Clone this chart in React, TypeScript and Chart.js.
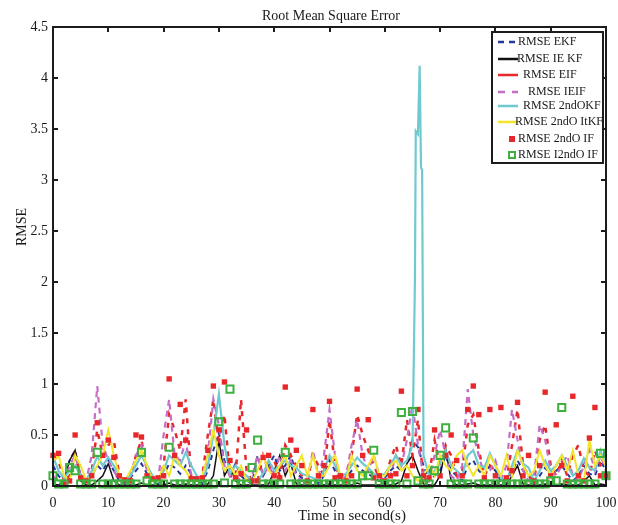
import React, { useEffect, useRef } from "react";
import { Chart, registerables } from "chart.js";

Chart.register(...registerables);

const W = 618;
const H = 525;
const FONT = "'Liberation Serif', 'Times New Roman', serif";

const seconds = Array.from({ length: 101 }, (_, i) => i);

const rmseEKF = [
  0.2, 0.1, 0.05, 0.25, 0.35, 0.1, 0.03, 0.1, 0.2, 0.15,
  0.25, 0.15, 0.05, 0.03, 0.08, 0.15, 0.22, 0.12, 0.05, 0.02,
  0.1, 0.22, 0.18, 0.12, 0.2, 0.12, 0.05, 0.03, 0.15, 0.35,
  0.52, 0.25, 0.1, 0.22, 0.1, 0.05, 0.03, 0.3, 0.1, 0.2,
  0.3, 0.15, 0.2, 0.3, 0.12, 0.08, 0.05, 0.05, 0.03, 0.1,
  0.25, 0.15, 0.05, 0.08, 0.15, 0.2, 0.15, 0.12, 0.08, 0.05,
  0.08, 0.15, 0.2, 0.15, 0.2, 0.45, 0.38, 0.2, 0.05, 0.1,
  0.15, 0.3, 0.15, 0.1, 0.05, 0.2, 0.25, 0.15, 0.1, 0.2,
  0.15, 0.05, 0.03, 0.15, 0.25, 0.15, 0.1, 0.03, 0.1, 0.18,
  0.1, 0.15, 0.2, 0.12, 0.05, 0.1, 0.2, 0.12, 0.1, 0.25,
  0.15,
];

const rmseIEKF = [
  0.02, 0.01, 0.05, 0.25, 0.35, 0.05, 0.01, 0.01, 0.05, 0.1,
  0.22, 0.05, 0.01, 0.01, 0.01, 0.01, 0.03, 0.01, 0.01, 0.01,
  0.01, 0.03, 0.01, 0.01, 0.02, 0.01, 0.01, 0.01, 0.02, 0.1,
  0.45, 0.1, 0.2, 0.05, 0.01, 0.01, 0.01, 0.01, 0.01, 0.02,
  0.15, 0.3, 0.1, 0.22, 0.02, 0.01, 0.01, 0.01, 0.01, 0.01,
  0.02, 0.01, 0.01, 0.01, 0.01, 0.03, 0.01, 0.01, 0.01, 0.01,
  0.01, 0.01, 0.02, 0.05, 0.22, 0.3, 0.15, 0.02, 0.01, 0.01,
  0.1, 0.37, 0.05, 0.01, 0.01, 0.02, 0.03, 0.01, 0.01, 0.01,
  0.01, 0.01, 0.01, 0.1, 0.2, 0.02, 0.01, 0.01, 0.01, 0.02,
  0.01, 0.01, 0.02, 0.01, 0.01, 0.01, 0.05, 0.1, 0.01, 0.02,
  0.01,
];

const rmseEIF = [
  0.3, 0.25, 0.05, 0.1, 0.3, 0.1, 0.05, 0.15, 0.55, 0.3,
  0.4, 0.45, 0.1, 0.05, 0.08, 0.3, 0.45, 0.15, 0.06, 0.06,
  0.2, 0.7, 0.55, 0.35, 0.85, 0.08, 0.06, 0.1, 0.5, 0.85,
  0.4, 0.7, 0.1, 0.08, 0.85, 0.15, 0.05, 0.05, 0.3, 0.15,
  0.25, 0.1, 0.4, 0.3, 0.2, 0.1, 0.05, 0.3, 0.2, 0.1,
  0.65, 0.2, 0.08, 0.05, 0.3, 0.7, 0.5, 0.35, 0.2, 0.08,
  0.05, 0.25, 0.4, 0.2, 0.65, 0.3, 0.65, 0.05, 0.1, 0.45,
  0.2, 0.4, 0.3, 0.1, 0.15, 0.6, 0.7, 0.35, 0.1, 0.2,
  0.15, 0.1, 0.05, 0.4, 0.75, 0.2, 0.1, 0.05, 0.45, 0.6,
  0.2, 0.1, 0.25, 0.1, 0.3, 0.4, 0.15, 0.1, 0.35, 0.2,
  0.1,
];

const rmseIEIF = [
  0.1, 0.05, 0.05, 0.2, 0.3, 0.1, 0.05, 0.3, 0.98, 0.4,
  0.25, 0.15, 0.05, 0.05, 0.1, 0.3, 0.4, 0.15, 0.05, 0.05,
  0.5, 0.85, 0.3, 0.25, 0.45, 0.1, 0.05, 0.05, 0.3, 0.85,
  0.6, 0.2, 0.1, 0.1, 0.05, 0.05, 0.1, 0.3, 0.1, 0.2,
  0.1, 0.3, 0.15, 0.25, 0.1, 0.05, 0.05, 0.35, 0.1, 0.3,
  0.75, 0.3, 0.05, 0.1, 0.4, 0.65, 0.3, 0.15, 0.3, 0.1,
  0.05, 0.1, 0.3, 0.2, 0.45, 0.8, 0.4, 0.1, 0.05, 0.3,
  0.55, 0.3, 0.1, 0.05, 0.2, 0.95, 0.5, 0.3, 0.1, 0.15,
  0.25, 0.05, 0.2, 0.75, 0.45, 0.15, 0.05, 0.1, 0.6, 0.45,
  0.15, 0.1, 0.2, 0.3, 0.1, 0.05, 0.2, 0.35, 0.15, 0.3,
  0.15,
];

const rmse2ndOKF = [
  0.29, 0.15, 0.08, 0.15, 0.2, 0.1, 0.05, 0.15, 0.29, 0.2,
  0.28, 0.2, 0.1, 0.05, 0.1, 0.2, 0.3, 0.2, 0.1, 0.04,
  0.15, 0.3, 0.25, 0.2, 0.33, 0.2, 0.1, 0.05, 0.2, 0.5,
  0.9, 0.4, 0.12, 0.2, 0.15, 0.1, 0.06, 0.05, 0.12, 0.25,
  0.15, 0.2, 0.25, 0.2, 0.18, 0.12, 0.1, 0.08, 0.05, 0.15,
  0.3, 0.2, 0.1, 0.12, 0.2, 0.28, 0.22, 0.18, 0.12, 0.1,
  0.12, 0.2, 0.3, 0.2, 0.25, 0.4, 3.45, 0.3, 0.1, 0.15,
  0.22, 0.35, 0.2, 0.15, 0.1, 0.3, 0.35, 0.2, 0.18, 0.32,
  0.2, 0.08, 0.05, 0.2, 0.35, 0.22, 0.18, 0.05, 0.15, 0.25,
  0.15, 0.2, 0.3, 0.2, 0.1, 0.15, 0.27, 0.18, 0.15, 0.35,
  0.2,
];
// extra samples of the 2ndOKF divergence around t = 65-67 s
const spikeTimes = [65.1, 65.45, 65.6, 66.3, 66.55, 66.75];
const spikeValues = [0.7, 2.03, 3.48, 4.12, 3.12, 3.1];

const rmse2ndOItKF = [
  0.25, 0.3, 0.1, 0.05, 0.3, 0.2, 0.05, 0.1, 0.2, 0.3,
  0.55, 0.3, 0.1, 0.05, 0.15, 0.25, 0.35, 0.2, 0.05, 0.05,
  0.2, 0.1, 0.3, 0.2, 0.15, 0.05, 0.05, 0.1, 0.3, 0.55,
  0.3, 0.15, 0.2, 0.1, 0.2, 0.05, 0.05, 0.15, 0.3, 0.15,
  0.1, 0.2, 0.3, 0.1, 0.2, 0.3, 0.1, 0.3, 0.1, 0.1,
  0.2, 0.3, 0.1, 0.05, 0.3, 0.15, 0.1, 0.2, 0.3, 0.1,
  0.1, 0.2, 0.25, 0.15, 0.2, 0.1, 0.05, 0.1, 0.2, 0.1,
  0.3, 0.2, 0.15, 0.3, 0.35, 0.2, 0.1, 0.2, 0.1, 0.3,
  0.2, 0.1, 0.3, 0.1, 0.35, 0.2, 0.1, 0.15, 0.35, 0.2,
  0.1, 0.2, 0.3, 0.15, 0.35, 0.1, 0.05, 0.45, 0.2, 0.3,
  0.2,
];

const rmse2ndOIF = [
  0.3, 0.32, 0.02, 0.05, 0.5, 0.08, 0.05, 0.1, 0.62, 0.3,
  0.45, 0.28, 0.1, 0.06, 0.05, 0.5, 0.48, 0.1, 0.07, 0.08,
  0.1, 1.05, 0.3, 0.8, 0.45, 0.07, 0.07, 0.08, 0.35, 0.98,
  0.55, 1.02, 0.25, 0.08, 0.12, 0.55, 0.05, 0.05, 0.28, 0.3,
  0.1, 0.08, 0.97, 0.45, 0.35, 0.2, 0.05, 0.75, 0.1, 0.2,
  0.83, 0.08, 0.1, 0.05, 0.1, 0.95, 0.3, 0.65, 0.08, 0.1,
  0.05, 0.1, 0.12, 0.93, 0.1, 0.2, 0.75, 0.1, 0.08, 0.55,
  0.1, 0.3, 0.5, 0.25, 0.1, 0.75, 0.98, 0.7, 0.08, 0.75,
  0.1, 0.77, 0.08, 0.15, 0.82, 0.1, 0.3, 0.05, 0.2, 0.92,
  0.1, 0.6, 0.2, 0.05, 0.88, 0.1, 0.05, 0.47, 0.77, 0.1,
  0.1,
];

const rmseI2ndOIF = [
  0.1, 0.02, 0.02, 0.18, 0.15, 0.02, 0.02, 0.02, 0.33, 0.02,
  0.02, 0.02, 0.02, 0.02, 0.02, 0.02, 0.33, 0.05, 0.02, 0.02,
  0.02, 0.38, 0.02, 0.02, 0.02, 0.02, 0.02, 0.02, 0.02, 0.02,
  0.63, 0.03, 0.95, 0.02, 0.02, 0.02, 0.18, 0.45, 0.02, 0.02,
  0.02, 0.02, 0.33, 0.02, 0.02, 0.02, 0.02, 0.02, 0.02, 0.02,
  0.02, 0.02, 0.02, 0.02, 0.02, 0.02, 0.1, 0.1, 0.35, 0.02,
  0.02, 0.02, 0.02, 0.72, 0.02, 0.73, 0.05, 0.02, 0.02, 0.15,
  0.3, 0.57, 0.02, 0.02, 0.02, 0.02, 0.47, 0.02, 0.02, 0.02,
  0.02, 0.02, 0.02, 0.02, 0.02, 0.02, 0.02, 0.02, 0.02, 0.02,
  0.05, 0.05, 0.77, 0.02, 0.02, 0.02, 0.02, 0.02, 0.02, 0.32,
  0.1,
];

const legendLabels = [
  "RMSE EKF",
  "RMSE IE KF",
  "RMSE EIF",
  "RMSE IEIF",
  "RMSE 2ndOKF",
  "RMSE 2ndO ItKF",
  "RMSE 2ndO IF",
  "RMSE I2ndO IF",
];

const C_BLUE = "#25379b";
const C_BLACK = "#111111";
const C_RED = "#e8272b";
const C_MAGENTA = "#c46ec6";
const C_CYAN = "#6fcacf";
const C_YELLOW = "#f3e52c";
const C_GREEN = "#3db03d";

const toPoints = (vals: number[]) => vals.map((v, i) => ({ x: seconds[i], y: v }));

const framePlugin = {
  id: "matlabFrame",
  afterDraw(chart: any) {
    const { ctx, chartArea } = chart;
    const { left, right, top, bottom } = chartArea;
    const xs = chart.scales.x;
    const ys = chart.scales.y;
    ctx.save();
    ctx.strokeStyle = "#1c1c1c";
    ctx.lineWidth = 2;
    ctx.strokeRect(left, top, right - left, bottom - top);
    ctx.beginPath();
    for (let v = 0; v <= 100; v += 10) {
      const px = Math.round(xs.getPixelForValue(v));
      ctx.moveTo(px, bottom);
      ctx.lineTo(px, bottom - 5);
      ctx.moveTo(px, top);
      ctx.lineTo(px, top + 5);
    }
    for (let v = 0; v <= 4.5; v += 0.5) {
      const py = Math.round(ys.getPixelForValue(v));
      ctx.moveTo(left, py);
      ctx.lineTo(left + 5, py);
      ctx.moveTo(right, py);
      ctx.lineTo(right - 5, py);
    }
    ctx.stroke();

    ctx.fillStyle = "#1a1a1a";
    ctx.textAlign = "center";
    ctx.textBaseline = "middle";
    ctx.font = `14px ${FONT}`;
    ctx.fillText("Root Mean Square Error", 331, 16);
    ctx.font = `15px ${FONT}`;
    ctx.fillText("Time in second(s)", 352, 516);
    ctx.save();
    ctx.translate(22, 227);
    ctx.rotate(-Math.PI / 2);
    ctx.font = `14px ${FONT}`;
    ctx.fillText("RMSE", 0, 0);
    ctx.restore();

    // legend
    const bx = right - 114;
    const by = top + 5;
    const bw = 111;
    const bh = 131;
    ctx.fillStyle = "#ffffff";
    ctx.fillRect(bx, by, bw, bh);
    ctx.strokeStyle = "#1c1c1c";
    ctx.lineWidth = 2;
    ctx.strokeRect(bx, by, bw, bh);

    const rowY = [43, 60, 76, 93, 107, 123, 140, 156].map((y) => y - 28 + top);
    const textX = [518, 517, 523, 528, 523, 515, 518, 518];
    const styles = [
      { c: C_BLUE, dash: [6, 5], w: 2.5 },
      { c: C_BLACK, dash: [], w: 2.5 },
      { c: C_RED, dash: [], w: 2.5 },
      { c: C_MAGENTA, dash: [7, 7], w: 2.5 },
      { c: C_CYAN, dash: [], w: 2.5 },
      { c: C_YELLOW, dash: [], w: 2.5 },
    ];
    for (let i = 0; i < 6; i++) {
      const s = styles[i];
      ctx.strokeStyle = s.c;
      ctx.lineWidth = s.w;
      ctx.setLineDash(s.dash);
      ctx.beginPath();
      ctx.moveTo(bx + 6, rowY[i]);
      ctx.lineTo(bx + 26, rowY[i]);
      ctx.stroke();
    }
    ctx.setLineDash([]);
    ctx.fillStyle = C_RED;
    ctx.fillRect(bx + 17, rowY[6] - 3, 6, 6);
    ctx.strokeStyle = C_GREEN;
    ctx.lineWidth = 2;
    ctx.strokeRect(bx + 17, rowY[7] - 3, 6, 6);

    ctx.fillStyle = "#1a1a1a";
    ctx.font = `12px ${FONT}`;
    ctx.textAlign = "left";
    for (let i = 0; i < legendLabels.length; i++) {
      ctx.fillText(legendLabels[i], textX[i] - 518 + bx + 26, rowY[i]);
    }
    ctx.restore();
  },
};

export default function App() {
  const ref = useRef<HTMLCanvasElement | null>(null);

  useEffect(() => {
    if (!ref.current) return;
    const cyanPoints = [
      ...toPoints(rmse2ndOKF),
      ...spikeTimes.map((t, i) => ({ x: t, y: spikeValues[i] })),
    ].sort((a, b) => a.x - b.x);

    const lineBase = { pointRadius: 0, tension: 0, fill: false };

    const chart = new Chart(ref.current, {
      type: "line",
      data: {
        datasets: [
          {
            label: legendLabels[7],
            data: toPoints(rmseI2ndOIF),
            showLine: false,
            pointStyle: "rect",
            pointRadius: 5,
            pointBorderWidth: 2,
            pointBorderColor: C_GREEN,
            pointBackgroundColor: "rgba(255,255,255,0)",
            borderColor: C_GREEN,
            clip: false,
          },
          {
            label: legendLabels[6],
            data: toPoints(rmse2ndOIF),
            showLine: false,
            pointStyle: "rect",
            pointRadius: 3.8,
            pointBorderWidth: 0,
            pointBackgroundColor: C_RED,
            borderColor: C_RED,
            clip: false,
          },
          {
            ...lineBase,
            label: legendLabels[5],
            data: toPoints(rmse2ndOItKF),
            borderColor: C_YELLOW,
            borderWidth: 2,
          },
          {
            ...lineBase,
            label: legendLabels[4],
            data: cyanPoints,
            borderColor: C_CYAN,
            borderWidth: 2.2,
          },
          {
            ...lineBase,
            label: legendLabels[3],
            data: toPoints(rmseIEIF),
            borderColor: C_MAGENTA,
            borderWidth: 2.2,
            borderDash: [6, 5],
          },
          {
            ...lineBase,
            label: legendLabels[2],
            data: toPoints(rmseEIF),
            borderColor: C_RED,
            borderWidth: 2.5,
            borderDash: [5, 6],
          },
          {
            ...lineBase,
            label: legendLabels[1],
            data: toPoints(rmseIEKF),
            borderColor: C_BLACK,
            borderWidth: 1.5,
          },
          {
            ...lineBase,
            label: legendLabels[0],
            data: toPoints(rmseEKF),
            borderColor: C_BLUE,
            borderWidth: 2,
            borderDash: [5, 4],
          },
        ],
      },
      options: {
        responsive: false,
        animation: false,
        events: [],
        layout: { padding: { top: 27, right: 12, left: 0, bottom: 0 } },
        plugins: {
          legend: { display: false },
          tooltip: { enabled: false },
          title: { display: false },
        },
        scales: {
          x: {
            type: "linear",
            min: 0,
            max: 100,
            grid: { display: false, drawTicks: false },
            border: { display: false },
            ticks: {
              stepSize: 10,
              padding: 9,
              maxRotation: 0,
              color: "#1a1a1a",
              font: { family: FONT, size: 14 },
            },
            afterFit(scale: any) {
              scale.height = 39;
              scale.paddingRight = 0;
              scale.paddingLeft = 0;
            },
          },
          y: {
            type: "linear",
            min: 0,
            max: 4.5,
            grid: { display: false, drawTicks: false },
            border: { display: false },
            ticks: {
              stepSize: 0.5,
              padding: 5,
              color: "#1a1a1a",
              font: { family: FONT, size: 14 },
              callback: (v: any) => String(Math.round(Number(v) * 10) / 10),
            },
            afterFit(scale: any) {
              scale.width = 53;
              scale.paddingTop = 0;
              scale.paddingBottom = 0;
            },
          },
        },
      },
      plugins: [framePlugin],
    } as any);
    return () => chart.destroy();
  }, []);

  return (
    <div style={{ position: "absolute", left: 0, top: 0, width: W, height: H, background: "#fff" }}>
      <canvas ref={ref} width={W} height={H} style={{ display: "block" }} />
    </div>
  );
}
